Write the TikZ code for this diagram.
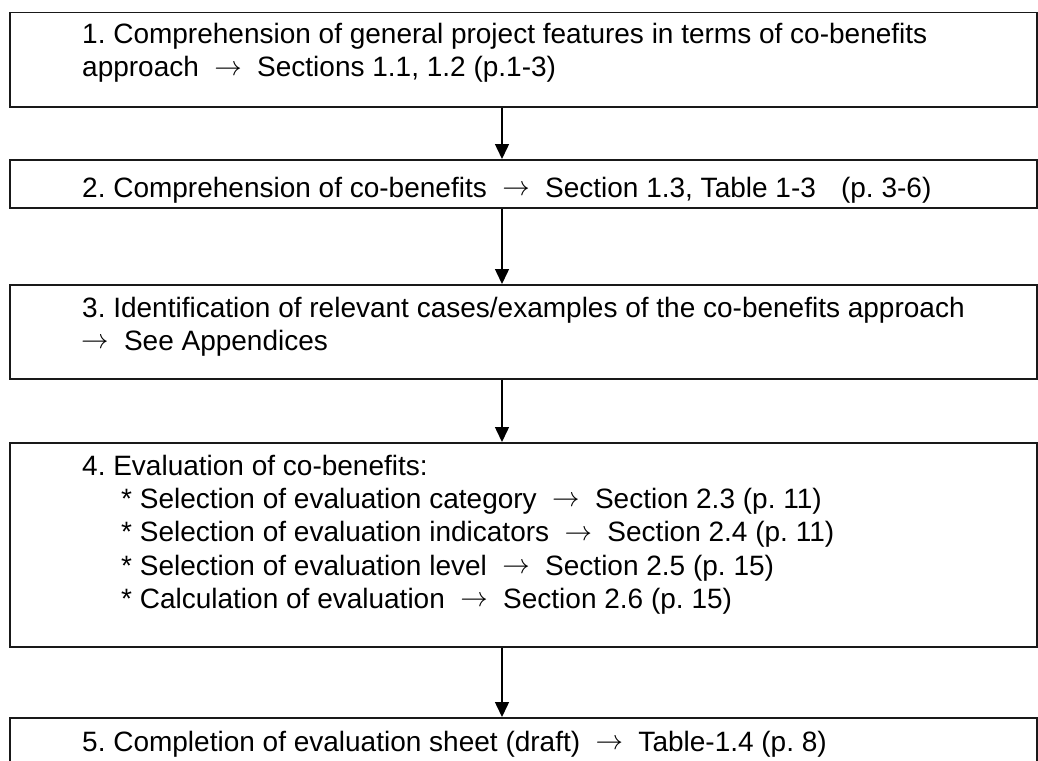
\RequirePackage{fix-cm}
\documentclass[tikz,border=0pt]{standalone}
\usepackage{fontspec}
\setmainfont{Liberation Sans}
\usetikzlibrary{arrows.meta}
\newcommand{\arrglyph}{\raisebox{0.05em}{\resizebox{0.98em}{!}{$\rightarrow$}}}
\newcommand{\myarr}{\hspace{0.55em}\arrglyph\hspace{0.55em}}
\begin{document}
\begin{tikzpicture}[x=1pt,y=-1pt,
  stepbox/.style={draw=black!90, line width=1.5pt, anchor=north west, inner sep=0pt,
    minimum width=1027pt},
  txt/.style={anchor=base west, inner sep=0pt, text=black, font=\frenchspacing\fontsize{28}{33}\selectfont},
  flow/.style={line width=1.5pt, draw=black, -{Triangle[width=14pt,length=15pt]}}]
\useasboundingbox (0,0) rectangle (1038,760);
\clip (0,0) rectangle (1038,760);
\fill[white] (0,0) rectangle (1038,760);

% boxes
\node[stepbox, minimum height=94pt]  (b1) at (9,12)  {};
\node[stepbox, minimum height=48pt]  (b2) at (9,159) {};
\node[stepbox, minimum height=94pt]  (b3) at (9,284) {};
\node[stepbox, minimum height=204pt] (b4) at (9,442) {};
\node[stepbox, minimum height=80pt]  (b5) at (9,717) {};

% texts
\node[txt] (t1a) at (82,44)  {1. Comprehension of general project features in terms of co-benefits};
\node[txt] (t1b) at (82,77)  {approach\myarr Sections 1.1, 1.2 (p.1-3)};
\node[txt] (t2)  at (82,197) {2. Comprehension of co-benefits\myarr Section 1.3, Table 1-3\hspace{0.9em}(p. 3-6)};
\node[txt] (t3a) at (82,317) {3. Identification of relevant cases/examples of the co-benefits approach};
\node[txt] (t3b) at (81,350) {\arrglyph\hspace{0.55em}See Appendices};
\node[txt] (t4a) at (82,475)   {4. Evaluation of co-benefits:};
\node[txt] (t4b) at (121,508.3) {* Selection of evaluation category\myarr Section 2.3 (p. 11)};
\node[txt] (t4c) at (121,541.6) {* Selection of evaluation indicators\myarr Section 2.4 (p. 11)};
\node[txt] (t4d) at (121,575)   {* Selection of evaluation level\myarr Section 2.5 (p. 15)};
\node[txt] (t4e) at (121,608.3) {* Calculation of evaluation\myarr Section 2.6 (p. 15)};
\node[txt] (t5)  at (82,751) {5. Completion of evaluation sheet (draft)\myarr Table-1.4 (p. 8)};

% connectors
\coordinate (ax) at (502,0);
\draw[flow] (b1.south -| ax) -- (b2.north -| ax);
\draw[flow] (b2.south -| ax) -- (b3.north -| ax);
\draw[flow] (b3.south -| ax) -- (b4.north -| ax);
\draw[flow] (b4.south -| ax) -- (b5.north -| ax);
\end{tikzpicture}
\end{document}
